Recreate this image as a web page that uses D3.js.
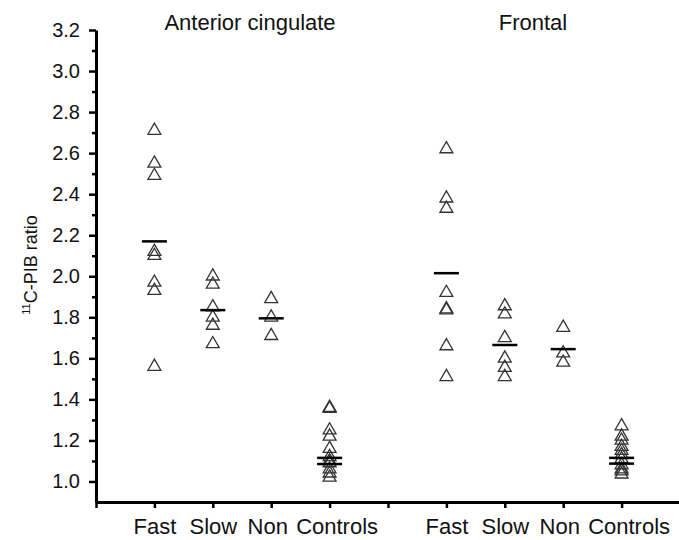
<!DOCTYPE html>
<html>
<head>
<meta charset="utf-8">
<script src="https://cdn.jsdelivr.net/npm/d3@7"></script>
<style>
  body { margin: 0; background: #fff; }
  svg { display: block; font-family: "Liberation Sans", Arial, sans-serif; }
</style>
</head>
<body>
<div id="chart"></div>
<script>
// Categories and panel titles
const categories = ["Fast", "Slow", "Non", "Controls"];
const regions = ["Anterior cingulate", "Frontal"];
const xTickLabels = ["", "Fast", "Slow", "Non", "Controls", "", "Fast", "Slow", "Non", "Controls", ""];

// Anterior cingulate values (one array per category)
const acFast = [2.71, 2.55, 2.49, 2.12, 2.10, 1.97, 1.93, 1.56];
const acSlow = [2.00, 1.96, 1.85, 1.80, 1.76, 1.67];
const acNon = [1.89, 1.80, 1.71];
const acControls = [1.36, 1.355, 1.25, 1.22, 1.16, 1.12, 1.10, 1.09, 1.06, 1.04, 1.02];
const acLines = [[2.17], [1.835], [1.795], [1.115, 1.085]];

// Frontal values
const frFast = [2.62, 2.38, 2.33, 1.92, 1.84, 1.835, 1.66, 1.51];
const frSlow = [1.855, 1.815, 1.70, 1.60, 1.555, 1.51];
const frNon = [1.75, 1.625, 1.58];
const frControls = [1.27, 1.22, 1.20, 1.17, 1.15, 1.13, 1.11, 1.08, 1.06, 1.05, 1.035];
const frLines = [[2.015], [1.665], [1.645], [1.115, 1.087]];

// Y ticks
const yMajor = [1.0, 1.2, 1.4, 1.6, 1.8, 2.0, 2.2, 2.4, 2.6, 2.8, 3.0, 3.2];
const yMinor = [1.1, 1.3, 1.5, 1.7, 1.9, 2.1, 2.3, 2.5, 2.7, 2.9, 3.1];

const groups = [
  { pos: 1, values: acFast, lines: acLines[0] },
  { pos: 2, values: acSlow, lines: acLines[1] },
  { pos: 3, values: acNon, lines: acLines[2] },
  { pos: 4, values: acControls, lines: acLines[3] },
  { pos: 6, values: frFast, lines: frLines[0] },
  { pos: 7, values: frSlow, lines: frLines[1] },
  { pos: 8, values: frNon, lines: frLines[2] },
  { pos: 9, values: frControls, lines: frLines[3] },
];

const width = 679;
const height = 540;
const margin = { top: 30, right: 0, bottom: 38, left: 96 };

const svg = d3.select("#chart")
  .append("svg")
  .attr("width", width)
  .attr("height", height);

const x = d3.scaleLinear()
  .domain([0, 10])
  .range([margin.left, 680]);

const y = d3.scaleLinear()
  .domain([0.9, 3.2])
  .range([height - margin.bottom, margin.top]);

// Minor y ticks
svg.append("g")
  .attr("transform", `translate(${margin.left},0)`)
  .call(d3.axisLeft(y).tickValues(yMinor).tickSize(4).tickFormat(""))
  .call(g => g.select(".domain").remove())
  .call(g => g.selectAll("line").attr("stroke", "#000").attr("stroke-width", 2.5));

// Major y ticks
svg.append("g")
  .attr("transform", `translate(${margin.left},0)`)
  .call(d3.axisLeft(y).tickValues(yMajor).tickSize(7).tickSizeOuter(0).tickPadding(9)
    .tickFormat(d3.format(".1f")))
  .call(g => g.select(".domain").attr("stroke-width", 3))
  .call(g => g.selectAll("line").attr("stroke-width", 2.5))
  .call(g => g.selectAll("text").attr("font-size", 20).attr("fill", "#111"));

// X axis (labels nudged like the original: "Non" a bit left, "Controls" a bit right)
svg.append("g")
  .attr("transform", `translate(0,${height - margin.bottom})`)
  .call(d3.axisBottom(x).tickValues(d3.range(0, 11)).tickSize(6).tickSizeOuter(0).tickPadding(10)
    .tickFormat(d => xTickLabels[d]))
  .call(g => g.select(".domain").attr("stroke-width", 3))
  .call(g => g.selectAll("line").attr("stroke-width", 2.5))
  .call(g => g.selectAll("text")
    .attr("font-size", 22)
    .attr("fill", "#111")
    .attr("dx", d => xTickLabels[d] === "Non" ? -4 : xTickLabels[d] === "Controls" ? 7 : 0));

// Data points
const tri = d3.symbol(d3.symbolTriangle, 72);

groups.forEach(grp => {
  svg.append("g")
    .selectAll("path")
    .data(grp.values)
    .enter()
    .append("path")
    .attr("d", tri)
    .attr("transform", d => `translate(${x(grp.pos)},${y(d)})`)
    .attr("fill", "none")
    .attr("stroke", "#333")
    .attr("stroke-width", 1.3);

  svg.append("g")
    .selectAll("line")
    .data(grp.lines)
    .enter()
    .append("line")
    .attr("x1", x(grp.pos) - 12.5)
    .attr("x2", x(grp.pos) + 12.5)
    .attr("y1", d => y(d))
    .attr("y2", d => y(d))
    .attr("stroke", "#000")
    .attr("stroke-width", 2.5);
});

// Panel titles
svg.selectAll(".title")
  .data(regions)
  .enter()
  .append("text")
  .attr("class", "title")
  .attr("x", (d, i) => i === 0 ? 250 : 533)
  .attr("y", 30)
  .attr("text-anchor", "middle")
  .attr("font-size", 22)
  .attr("fill", "#111")
  .text(d => d);

// Y label
svg.append("text")
  .attr("transform", `translate(37,265) rotate(-90)`)
  .attr("text-anchor", "middle")
  .attr("font-size", 18)
  .attr("fill", "#111")
  .html('<tspan font-size="11" dy="-7">11</tspan><tspan dy="7">C-PIB ratio</tspan>');
</script>
</body>
</html>
